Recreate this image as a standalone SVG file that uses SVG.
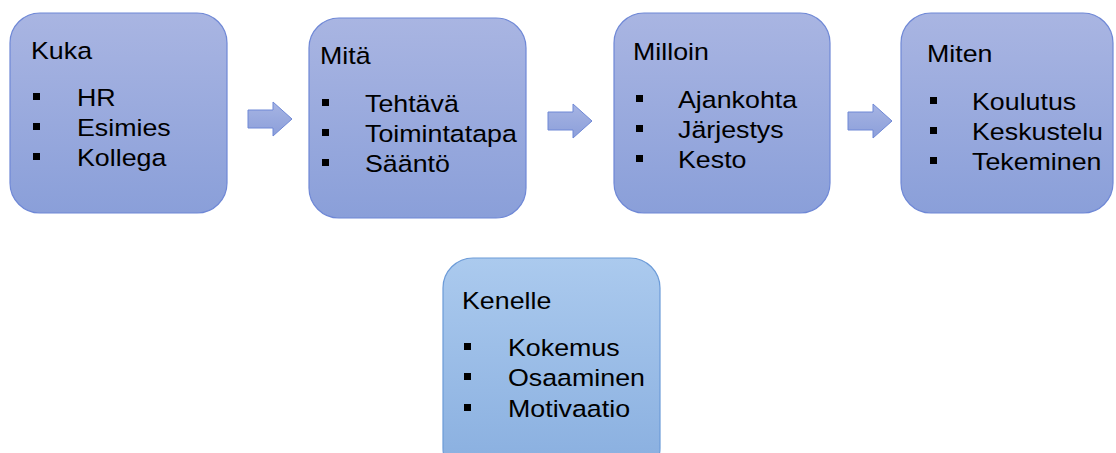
<svg xmlns="http://www.w3.org/2000/svg" width="1116" height="453" viewBox="0 0 1116 453">
<defs>
<linearGradient id="gBlue" x1="0" y1="0" x2="0" y2="1">
<stop offset="0" stop-color="#A9B5E2"/>
<stop offset="1" stop-color="#8A9FD9"/>
</linearGradient>
<linearGradient id="gLight" x1="0" y1="0" x2="0" y2="1">
<stop offset="0" stop-color="#ABCAEE"/>
<stop offset="1" stop-color="#88AEDF"/>
</linearGradient>
<linearGradient id="gArrow" x1="0" y1="0" x2="0" y2="1">
<stop offset="0" stop-color="#A6B4E3"/>
<stop offset="1" stop-color="#8C9FDA"/>
</linearGradient>
<path id="arr" d="M0,-9 H25 V-17 L44,0 L25,17 V9 H0 Z"/>
</defs>
<style>
.box{fill:url(#gBlue);stroke:#6F88D6;stroke-width:1.2}
.box2{fill:url(#gLight);stroke:#6C9BD8;stroke-width:1.2}
.t{font-family:"Liberation Sans",Arial,sans-serif;font-size:23.5px;fill:#000}
.b{fill:#000}
.ar{fill:url(#gArrow);stroke:#6F88D6;stroke-width:1}
</style>
<rect width="1116" height="453" fill="#fff"/>
<g id="connectors">
<use href="#arr" class="ar" x="248" y="119"/>
<use href="#arr" class="ar" x="548" y="121"/>
<use href="#arr" class="ar" x="848" y="121"/>
</g>
<g id="kuka">
<rect class="box" x="10" y="13" width="217" height="200" rx="30"/>
<text class="t" transform="matrix(1.14 0 0 1 31 59)">Kuka</text>
<rect class="b" x="33" y="93" width="7" height="7"/>
<rect class="b" x="33" y="123" width="7" height="7"/>
<rect class="b" x="33" y="153" width="7" height="7"/>
<text class="t" transform="matrix(1.14 0 0 1 77 106)">HR</text>
<text class="t" transform="matrix(1.14 0 0 1 77 136)">Esimies</text>
<text class="t" transform="matrix(1.14 0 0 1 77 166)">Kollega</text>
</g>
<g id="mita">
<rect class="box" x="309" y="18" width="217" height="200" rx="30"/>
<text class="t" transform="matrix(1.14 0 0 1 320 64)">Mitä</text>
<rect class="b" x="322" y="99" width="7" height="7"/>
<rect class="b" x="322" y="129" width="7" height="7"/>
<rect class="b" x="322" y="159" width="7" height="7"/>
<text class="t" transform="matrix(1.14 0 0 1 365 111.5)">Tehtävä</text>
<text class="t" transform="matrix(1.14 0 0 1 365 141.5)">Toimintatapa</text>
<text class="t" transform="matrix(1.14 0 0 1 365 171.5)">Sääntö</text>
</g>
<g id="milloin">
<rect class="box" x="614" y="13" width="216" height="200" rx="30"/>
<text class="t" transform="matrix(1.14 0 0 1 633 60)">Milloin</text>
<rect class="b" x="636" y="95" width="7" height="7"/>
<rect class="b" x="636" y="125" width="7" height="7"/>
<rect class="b" x="636" y="155" width="7" height="7"/>
<text class="t" transform="matrix(1.14 0 0 1 678 108)">Ajankohta</text>
<text class="t" transform="matrix(1.14 0 0 1 678 138)">Järjestys</text>
<text class="t" transform="matrix(1.14 0 0 1 678 168)">Kesto</text>
</g>
<g id="miten">
<rect class="box" x="901" y="13" width="212" height="200" rx="30"/>
<text class="t" transform="matrix(1.14 0 0 1 927 62)">Miten</text>
<rect class="b" x="930" y="97" width="7" height="7"/>
<rect class="b" x="930" y="127" width="7" height="7"/>
<rect class="b" x="930" y="157" width="7" height="7"/>
<text class="t" transform="matrix(1.14 0 0 1 972 110)">Koulutus</text>
<text class="t" transform="matrix(1.14 0 0 1 972 140)">Keskustelu</text>
<text class="t" transform="matrix(1.14 0 0 1 972 170)">Tekeminen</text>
</g>
<g id="kenelle">
<rect class="box2" x="443" y="258" width="217" height="220" rx="30"/>
<text class="t" transform="matrix(1.14 0 0 1 462 309)">Kenelle</text>
<rect class="b" x="464" y="343" width="7" height="7"/>
<rect class="b" x="464" y="373" width="7" height="7"/>
<rect class="b" x="464" y="404" width="7" height="7"/>
<text class="t" transform="matrix(1.14 0 0 1 508 356)">Kokemus</text>
<text class="t" transform="matrix(1.14 0 0 1 508 386)">Osaaminen</text>
<text class="t" transform="matrix(1.14 0 0 1 508 417)">Motivaatio</text>
</g>
</svg>
